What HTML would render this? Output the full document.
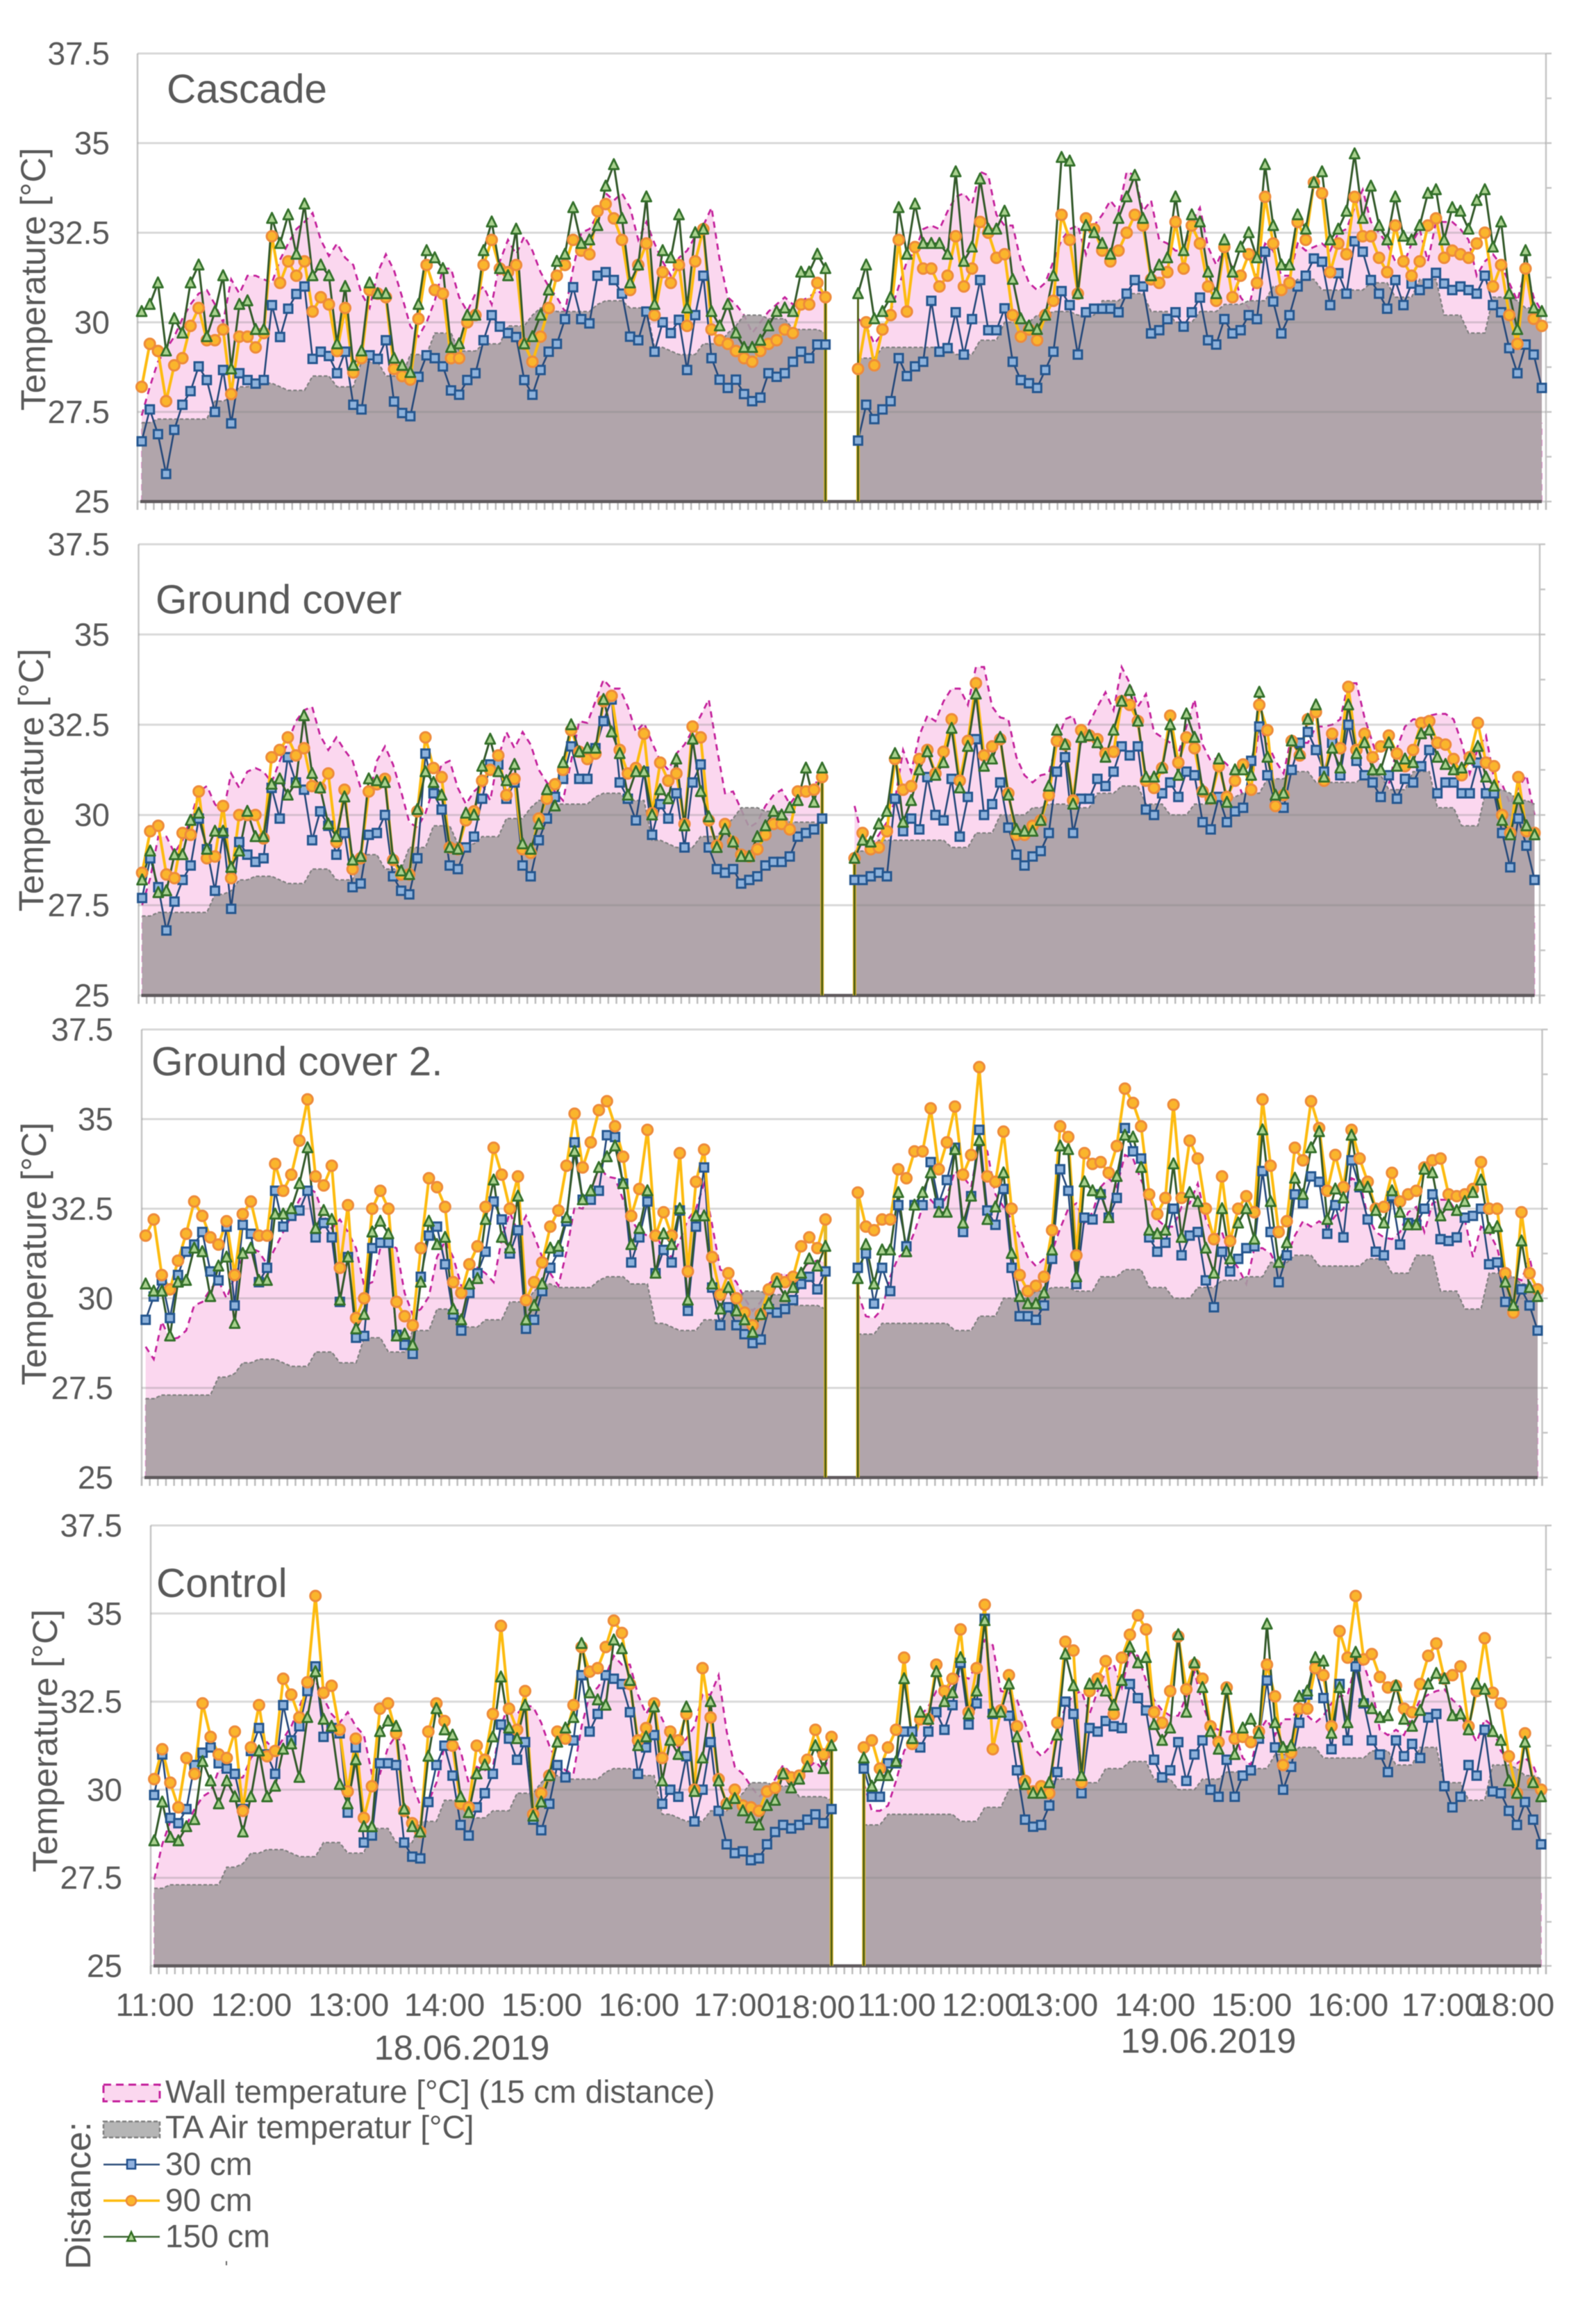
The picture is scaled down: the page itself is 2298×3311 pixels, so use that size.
<!DOCTYPE html>
<html lang="en">
<head>
<meta charset="utf-8">
<title>Temperature profiles by green wall type</title>
<style>
html,body{margin:0;padding:0;background:#fff}
svg{display:block;filter:blur(0.6px)}
text{font-family:"Liberation Sans",sans-serif;fill:#595959}
</style>
</head>
<body>
<svg id="chart" xmlns="http://www.w3.org/2000/svg" width="2298" height="3311" viewBox="0 0 2298 3311">
<rect width="2298" height="3311" fill="#fff"/>
<g id="panels"></g>

<g font-size="46.5" text-anchor="middle">
<text x="223" y="2902">11:00</text>
<text x="362" y="2902">12:00</text>
<text x="502" y="2902">13:00</text>
<text x="640" y="2902">14:00</text>
<text x="780" y="2902">15:00</text>
<text x="920" y="2902">16:00</text>
<text x="1057" y="2902">17:00</text>
<text x="1173" y="2905">18:00</text>
</g>
<g font-size="46.5" text-anchor="middle">
<text x="1291" y="2902">11:00</text>
<text x="1414" y="2902">12:00</text>
<text x="1523" y="2902">13:00</text>
<text x="1663" y="2902">14:00</text>
<text x="1802" y="2902">15:00</text>
<text x="1941" y="2902">16:00</text>
<text x="2076" y="2902">17:00</text>
<text x="2180" y="2902">18:00</text>
</g>
<text x="665" y="2965" font-size="50.5" text-anchor="middle">18.06.2019</text>
<text x="1740" y="2955" font-size="50.5" text-anchor="middle">19.06.2019</text>

<g font-size="46">
<g>
<rect x="149" y="3001" width="81" height="24" fill="#fbd7ef" stroke="#c4219c" stroke-width="3" stroke-dasharray="11 7"/>
<text x="238" y="3027">Wall temperature [°C] (15 cm distance)</text>
</g>
<g>
<rect x="149" y="3054" width="81" height="23" fill="#b5b5b5" stroke="#7f7f7f" stroke-width="2.5" stroke-dasharray="6 3"/>
<text x="238" y="3078">TA Air temperatur [°C]</text>
</g>
<g>
<line x1="149" x2="230" y1="3116" y2="3116" stroke="#2c4f7c" stroke-width="2.5"/>
<rect x="183" y="3109" width="12" height="13" fill="#8fb0de" stroke="#1f4e8c" stroke-width="2.5"/>
<text x="238" y="3131">30 cm</text>
</g>
<g>
<line x1="149" x2="230" y1="3168" y2="3168" stroke="#fdbb10" stroke-width="3.5"/>
<circle cx="189" cy="3168" r="7" fill="#fbb62c" stroke="#ee8a3a" stroke-width="2.5"/>
<text x="238" y="3183">90 cm</text>
</g>
<g>
<line x1="149" x2="230" y1="3220" y2="3220" stroke="#3a6230" stroke-width="2.5"/>
<polygon points="189,3213 195,3226 183,3226" fill="#a9d18e" stroke="#2f6b1f" stroke-width="2.5"/>
<text x="238" y="3235">150 cm</text>
</g>
</g>
<text transform="translate(130,3267) rotate(-90)" font-size="51">Distance:</text>
<rect x="325" y="3255" width="2" height="6" fill="#666"/>
</svg>

<script>
// shared axis ticks
const yTicks = [25, 27.5, 30, 32.5, 35, 37.5];
const yMinorStep = 1.25;
const slotCount = 173;

// TA air temperature (shared by all four panels)
const airTemp = [
27.2,27.2,27.3,27.3,27.3,27.3,27.3,27.3,27.3,27.8,
27.8,27.9,28.2,28.2,28.3,28.3,28.3,28.2,28.1,28.1,
28.1,28.5,28.5,28.5,28.2,28.2,28.2,28.9,28.9,28.9,
28.5,28.5,28.5,29.1,29.1,29.1,29.7,29.7,29.7,29.2,
29.2,29.2,29.4,29.4,29.4,29.9,29.9,29.9,30.2,30.4,
30.4,30.3,30.3,30.3,30.3,30.3,30.5,30.6,30.6,30.6,
30.4,30.4,30.4,29.3,29.3,29.2,29.1,29.1,29.1,29.4,
29.4,29.4,29.7,29.9,30.2,30.2,30.2,30.1,30.1,30.1,
29.8,29.8,29.8,29.8,29.7,
null,null,null,
29,29,29,29.3,29.3,29.3,29.3,29.3,29.3,29.3,
29.3,29.3,29.1,29.1,29.1,29.5,29.5,29.5,30,30,
30,30,30.2,30.2,30.3,30.3,30.3,30.2,30.2,30.2,
30.6,30.6,30.6,30.8,30.8,30.8,30.3,30.3,30.3,30,
30,30,30.3,30.3,30.3,30.5,30.5,30.5,30.6,30.6,
30.6,31,31,31,31.2,31.2,31.2,30.9,30.9,30.9,
30.9,30.9,30.9,31.1,31.1,31.1,30.7,30.7,30.7,31.2,
31.2,31.2,30.2,30.2,30.2,29.7,29.7,29.7,30.7,30.7,
30.7,30.6,30.4,30.4,30.3];

// Cascade
const cascadeWall = [
27.4,28.2,28.9,29.25,29.6,30.1,30.5,30.8,30.9,30.5,
30,31.2,30.8,31.3,31.3,31.2,31.1,31.75,32.2,32.6,
32.8,33.05,32.3,31.85,32.2,31.8,31.6,30.8,30.4,31.4,
31.9,31.45,30.7,29.9,29.6,30,30.6,31.5,31.5,30.7,
30.3,30.8,31,30.5,31.7,32.3,31.9,32.4,32,31.4,
31,30.7,30.3,31.5,32.5,32.6,33,33.6,33.4,33.6,
33.2,32.3,32.8,32.2,31.7,31.3,31.8,32,32.4,32.7,
33.2,31.75,30.7,30.5,30.2,29.7,30,30.3,30.5,30.7,
30.5,30.6,30.7,30.9,30.7,
null,null,null,
30.1,29.9,29.4,29.7,30.3,31,31.7,32,32.6,32.7,
32.6,33.1,33.5,33.6,33.3,34.2,34.1,33,32.7,32.7,
31.7,31.1,30.9,31.1,31.7,32.3,32.6,32.7,31.9,32.7,
33,33.4,33.1,34.2,34.1,33.1,33.4,32.3,32.2,32,
32,32.8,33.2,32.1,31.6,32.1,31.5,30.7,30.4,31.4,
32.2,32,31.3,31.3,32.2,32,32.1,32.2,32,32.5,
32.6,33.2,33.7,32.8,32.5,32.2,31.7,31.6,32.2,32.6,
31.7,32.8,32.8,32.8,32.6,32.3,31.3,31.7,31.9,31.6,
31.1,30.6,31.5,30.7,30.3];
const cascade30 = [
26.68,27.57,26.88,25.77,27,27.7,28.08,28.77,28.39,27.5,
28.67,27.18,28.58,28.39,28.29,28.39,30.48,29.59,30.38,30.79,
31,28.98,29.18,29.06,28.58,29.18,27.7,27.57,29.08,28.98,
29.5,27.79,27.47,27.38,28.48,29.08,29,28.77,28.1,27.98,
28.39,28.58,29.5,30.2,29.88,29.7,29.59,28.39,27.98,28.67,
29.18,29.4,30.09,30.98,30.09,29.97,31.3,31.4,31.18,30.8,
29.6,29.5,30.3,29.18,30,29.7,30.07,28.67,30.2,31.3,
29,28.4,28.17,28.4,28,27.8,27.9,28.58,28.48,28.58,
28.9,29.18,29,29.38,29.38,
null,null,null,
26.7,27.7,27.3,27.57,27.8,29,28.5,28.77,28.9,30.6,
29.18,29.28,30.28,29.1,30.09,31.18,29.78,29.78,30.39,28.9,
28.39,28.3,28.17,28.67,29.18,30.87,30.48,29.1,30.28,30.38,
30.38,30.38,30.28,30.8,31.18,31,29.69,29.78,30.09,30.28,
29.88,30.28,30.69,29.5,29.38,30.09,29.69,29.78,30.2,30.09,
31.97,30.58,29.69,30.2,31,31.3,31.78,31.69,30.48,31.37,
30.8,32.26,31.97,31.18,30.8,30.38,31.18,30.48,31.08,30.9,
31.08,31.38,31.08,30.9,31,30.9,30.8,31.3,30.48,30.28,
29.28,28.58,29.38,29.1,28.17];
const cascade90 = [
28.2,29.4,29.2,27.8,28.8,29,29.9,30.4,29.5,29.5,
29.8,28,29.6,29.6,29.3,29.7,32.4,31.1,31.7,31.3,
31.7,30.3,30.7,30.5,29.2,30.4,28.6,29,30.9,30.8,
30.7,28.7,28.5,28.4,30.1,31.6,30.9,30.8,29,29,
30,30.2,31.6,32.3,31.5,31.4,31.6,29.4,28.9,29.6,
30.4,31.3,31.6,32.3,32,31.9,33.1,33.3,32.9,32.3,
30.9,31.6,32.2,30.2,31.4,31.1,31.6,29.9,31.7,32.6,
29.8,29.5,29.4,29.2,29,28.9,29.2,29.4,29.5,29.8,
29.7,30.5,30.5,31.1,30.7,
null,null,null,
28.7,30,28.8,29.8,30.2,32.3,30.3,32.1,31.5,31.5,
31,31.3,32.4,31,31.5,32.8,32.5,31.8,31.9,30.2,
29.6,29.8,29.5,30.2,30.6,33,32.3,30.8,32.9,32.6,
32,31.7,32,32.5,33,32.7,31.2,31.1,31.4,32.8,
31.5,32.7,32.2,31,30.6,32.1,30.7,31.3,31.9,31.1,
33.5,32.2,30.9,31.1,32.8,32.3,33.9,33.6,31.4,32.2,
31.9,33.5,32.4,32.4,31.8,31.4,32.7,31.7,31.3,31.7,
32.7,32.9,31.8,32,31.9,31.8,32.2,32.5,31,31.6,
30.2,29.4,31.5,30.1,29.9];
const cascade150 = [
30.3,30.5,31.1,29.2,30.1,29.7,31.1,31.6,29.6,30.3,
31.3,28.7,30.5,30.6,29.8,29.8,32.9,32.2,33,31.9,
33.3,31.3,31.6,31.3,29.4,31,28.8,29.2,31.1,30.8,
30.8,29,28.8,28.6,30.5,32,31.8,31.5,29.3,29.4,
30.2,30.2,32,32.8,31.5,31.3,32.6,29.4,29.6,30.2,
30.9,31.7,31.9,33.2,32.2,32.3,32.7,33.8,34.4,32.9,
31.1,31.6,33.5,30.5,32,31.8,33,30.4,32.5,32.6,
30.3,29.9,30.5,29.7,29.3,29.3,29.5,29.9,30.3,30.4,
30.3,31.4,31.4,31.9,31.5,
null,null,null,
30.8,31.6,30.1,30.3,30.7,33.2,31.9,33.3,32.2,32.2,
32.2,31.9,34.2,31.7,32.1,34,32.6,32.6,33.1,31.2,
30.1,29.9,29.8,30.2,31.3,34.6,34.5,30.8,32.7,32.5,
32.2,31.9,32.9,33.5,34.1,32.9,31.3,31.6,31.8,33.5,
32,33,32.8,31.4,30.8,32.3,31.4,32.1,32.5,31.8,
34.4,32.7,31.6,31.6,33,32.6,33.9,34.2,32.3,32.6,
33.1,34.7,32.9,33.8,32.7,32.3,33.5,32.4,32.3,32.7,
33.6,33.7,32.3,33.2,33.1,32.6,33.4,33.7,32.1,32.8,
30.8,29.8,32,30.4,30.3];

// Ground cover
const groundWall = [
27.5,28.25,29.4,29.4,28.95,29.3,29.9,30.65,30.8,30.3,
30.05,31.15,30.75,31.2,31.3,31.2,30.9,31.5,32,32.6,
32.9,33,32.2,31.8,32.15,31.8,31.5,30.75,30.5,31.5,
31.9,31.4,30.65,29.8,29.65,30.05,30.75,31.4,31.5,30.75,
30.3,30.65,30.85,30.4,31.6,32.3,31.85,32.3,31.95,31.25,
30.9,30.65,30.4,31.5,32.6,32.55,33.15,33.75,33.5,33.5,
33,32.3,32.55,32,31.5,31.25,31.7,31.95,32.35,32.75,
33.2,31.85,30.6,30.65,30.15,29.65,29.8,30.25,30.55,30.7,
30.3,30.6,30.7,30.9,30.9,
null,null,null,
30.25,29.35,29.15,29.45,29.8,30.4,31.8,31.2,32.2,32.75,
32.6,33.15,33.5,33.5,33.05,34.1,34.1,33,32.7,32.65,
31.6,31.1,30.9,31.1,31.15,32,32.65,32.75,32,32.55,
33,33.4,32.9,34.1,33.65,33,33.35,32.3,32.15,32,
31.7,32.45,33.2,31.95,31.5,31.6,31.4,31.15,30.5,30.75,
32.45,32,31.5,31.15,32.2,32,32,32.45,32.45,32.5,
32.65,33.65,33.65,32.7,32,31.35,30.85,31.85,32.45,32.65,
32.65,32.75,32.8,32.8,32.65,32,31.15,31.85,32.2,31,
30.85,30.3,30.75,31.1,30];
const ground30 = [
27.7,28.8,28,26.8,27.6,28.2,28.6,29.9,29.05,27.9,
29.5,27.4,29.25,28.9,28.7,28.8,30.75,29.9,31.6,30.9,
30.7,29.3,30.1,29.7,28.9,29.5,28,28.1,29.45,29.5,
30,28.3,27.9,27.8,28.8,31.7,30.6,30.15,28.6,28.5,
29.1,29.4,30.45,31.4,31.4,30.45,30.9,28.6,28.3,29.3,
29.9,30.5,31,31.9,31,31,31.85,32.6,33.2,30.9,
30.45,29.85,31.2,29.45,30.3,29.9,30.6,29.1,30.9,31.4,
29.1,28.5,28.4,28.5,28.1,28.2,28.3,28.6,28.7,28.7,
28.85,29.4,29.5,29.6,29.9,
null,null,null,
28.2,28.2,28.3,28.4,28.3,30.45,29.55,29.9,29.6,31.05,
30,29.85,31,29.4,30.5,32.1,30,30.3,30.9,29.65,
28.9,28.6,28.85,29,29.5,31.2,31.6,29.5,30.45,30.45,
31,30.8,31.2,31.9,31.65,31.9,30.15,30,30.6,30.9,
30.5,31.2,31.1,29.8,29.6,30.5,29.8,30.1,30.2,31.5,
32.45,31.1,30.3,30.2,31.25,32,32.3,31.8,31.2,32,
31.1,32.5,31.5,31.1,30.9,30.5,31.1,30.45,31,30.9,
31.35,31.8,30.6,30.9,30.9,30.6,30.6,31.45,30.6,30.6,
29.5,28.55,29.9,29.15,28.2];
const ground90 = [
28.4,29.55,29.7,28.35,28.25,29.5,29.45,30.65,28.8,28.85,
30.25,28.25,30,30,30,29.35,31.6,31.8,32.15,31.65,
31.85,30.8,30.75,31.15,29.25,30.7,28.5,28.8,30.65,30.85,
31,28.75,28.35,28.35,30.1,32.15,31.3,31.05,29.1,29.05,
29.85,30.1,30.95,31.25,31.65,30.55,31,29.05,28.95,29.9,
30.45,30.85,31.25,32.35,31.75,31.55,31.7,33.15,33.3,31.8,
31.15,31.3,32.25,30.05,31.45,30.95,31.15,29.75,32.45,32.15,
29.85,29.15,29.75,29.25,28.9,28.85,29.05,29.45,29.75,29.75,
29.6,30.65,30.65,30.7,31.05,
null,null,null,
28.8,29.5,29.05,29.1,29.55,31.55,30.7,30.8,31.55,31.8,
31.15,31.75,32.65,30.95,32.05,33.65,31.65,31.9,32.1,30.6,
29.45,29.45,29.7,29.85,30.55,32.05,31.95,30.4,32.35,32.2,
32.1,31.7,31.75,33.15,33.05,32.6,30.95,30.75,31.3,32.75,
31.45,32.15,31.85,30.65,30.45,31.35,30.5,30.95,31.4,30.7,
33.05,32.35,30.25,30.55,32.05,31.65,32.65,32.85,30.95,32.25,
31.85,33.55,31.8,32.25,31.6,31.9,32.2,31.7,31.35,31.8,
32.55,32.6,32,31.95,31.55,31.1,31.6,32.55,31.45,31.35,
30,29.5,31.05,29.55,29.5];
const ground150 = [
28.2,29,27.85,27.9,28.9,28.9,29.85,30.05,29.05,29.55,
29.55,28.55,29,30.1,29.4,29.4,30.85,31,30.55,30.9,
32.75,31.15,30.75,29.75,29.4,30.5,28.75,28.85,31,30.95,
30.9,28.8,28.45,28.35,30.15,31.2,30.9,30.55,29.1,29.05,
30.05,30,31.35,32.1,31.2,30.95,31.4,29.2,29.05,29.75,
30.7,30.25,31.45,32.5,31.75,31.85,31.85,33.2,32.3,31.7,
30.55,31.2,31.2,30,30.7,30.45,31.55,29.7,32.1,30.65,
29.95,29.1,29.6,29.25,28.85,28.85,29.4,29.7,30.1,30,
30.2,30.4,31.3,30.35,31.3,
null,null,null,
28.8,29.3,29.25,29.75,30.1,31.7,29.8,30.4,31.25,31.75,
31.1,31.45,32.4,30.75,31.9,33.35,31.35,31.55,32.15,30.55,
29.6,29.55,29.55,29.85,30.8,32.35,31.95,30.3,32.15,32.2,
32,31.6,32.35,33.15,33.45,32.6,31.05,31.05,31.3,32.5,
31.1,32.8,32.15,30.7,30.45,31.55,30.35,31.25,31.25,31.1,
33.4,31.6,30.55,30.6,32.05,31.7,32.65,33.05,31.05,31.85,
31.3,33.05,31.7,32,31.25,31.25,32,31.35,31.55,31.45,
32.25,32.35,31.6,31.4,31.25,31.3,31.55,31.9,31.05,30.8,
29.85,29.45,30.45,29.7,29.45];

// Ground cover 2.
const ground2Wall = [
28.65,28.3,29.35,28.85,28.9,29.1,29.8,29.9,30.25,30.5,
30,30.6,31.15,31.4,31.3,30.95,31.4,31.85,32.3,32.75,
33.1,32.95,32.3,31.95,32.2,31.85,31.4,30.35,30.45,31.4,
31.5,31.4,30.15,29.55,29.7,30.05,31.15,31.6,31.15,30.35,
30.15,30.85,30.7,30.45,31.65,32.4,31.85,32.3,31.75,31.15,
30.7,30.35,31.3,32.55,32.5,33,33.7,33.4,33.35,32.75,
32.2,31.85,31.75,31.85,31.3,31.15,31.6,32.2,32.5,33.2,
32.05,30.8,30.7,30.45,30,29.65,29.9,30.4,30.6,30.7,
30.4,30.8,31,31.05,31,
null,null,null,
30.15,29.5,29.45,29.7,30.6,31.15,31.3,31.85,32.55,32.75,
32.5,32.85,33.55,33.4,33.1,34.35,34.1,32.9,32.55,32.2,
31.7,31.15,30.9,31.1,31.3,31.95,32.5,32.65,32.1,32.4,
33.1,33.35,33.1,34,33.9,33.3,32.85,32.2,32,32,
32.55,32.65,33.2,32.2,31.75,31.85,31.15,30.85,30.4,31.4,
31.4,31.25,30.8,31.15,31.75,32.15,32,32.15,32,32.3,
32.5,33.35,33.25,32.3,31.85,31.7,31.65,31.85,32.4,32.55,
31.85,32.65,32.75,32.75,32.4,32.2,31.15,32,31.85,31.4,
30.5,30.6,30.5,31.15,30.05];
const ground230 = [
29.4,30.05,30.5,29.45,30.65,31.3,31.5,31.85,30.75,30.5,
32,29.8,32.05,31.8,30.45,30.85,33,32,32.3,32.45,
33,31.7,32.1,31.7,29.9,31.15,28.9,28.95,31.4,31.55,
31.55,28.98,28.7,28.45,30.6,31.75,32,30.95,29.55,29.1,
30.15,30.7,31.3,32.7,32.2,31.25,31.9,29.15,29.4,30.2,
30.85,31.3,32.15,34.35,32.75,32.75,33,34.55,34.5,33.2,
31,31.7,32.7,30.7,31.35,31,32.45,29.65,32,33.65,
30.3,29.25,29.75,29.25,29,28.75,28.85,29.7,29.6,29.7,
29.95,30.4,30.6,30.25,30.75,
null,null,null,
30.85,31.25,29.85,30.85,30.2,32.6,31.45,32.6,32.6,33.8,
32.65,33.3,34.2,31.85,32.85,34.7,32.45,32.05,33.05,30.85,
29.5,29.5,29.4,29.8,31.1,33.6,33,30.4,32.25,32.2,
32.9,32.25,32.8,34.75,34.1,33.9,31.7,31.3,31.55,32.5,
31.2,31.75,31.85,30.5,29.75,31.3,30.75,31.1,31.4,31.45,
33.55,31.85,30.45,31.2,32.9,32.65,33.4,33.25,31.8,32.6,
31.7,33.85,33.1,32.2,31.3,31.2,32.85,31.5,32.1,32.05,
32.5,32.9,31.65,31.6,31.7,32.25,32.3,32.5,30.95,31,
29.9,29.65,30.25,29.8,29.1];
const ground290 = [
31.75,32.2,30.65,30.25,31.05,31.8,32.7,32.3,31.7,31.5,
32.15,30.65,32.35,32.7,31.75,31.75,33.75,33,33.45,34.4,
35.55,33.4,33.15,33.7,30.85,32.6,29.45,30,32.5,33,
32.5,29.9,29.5,29.25,31.4,33.35,33.1,32.55,30.45,30.15,
30.95,31.45,32.55,34.2,33.45,32.5,33.4,29.95,30.45,31,
32,32.45,33.7,35.15,33.65,34.35,35.25,35.5,34.8,33.95,
32.3,33.05,34.7,31.75,32.4,31.75,34.05,30.75,33.25,34.15,
31.15,30.1,30.7,30,29.6,29.25,29.55,30.25,30.55,30.45,
30.6,31.45,31.7,31.4,32.2,
null,null,null,
32.95,32,31.9,32.2,32.2,33.6,33.35,34.1,34.1,35.3,
33.6,34.35,35.35,33.45,34,36.45,33.4,33.25,34.65,32.5,
30.65,30.2,30.35,30.6,31.9,34.8,34.5,31.2,34.05,33.75,
33.8,33.5,34.25,35.85,35.45,34.8,32.9,32.35,32.8,35.4,
32.8,34.4,33.9,32.5,31.65,33.4,31.6,32.5,32.85,32.4,
35.55,33.7,31.85,32.15,34.2,33.85,35.5,34.75,33,34,
33.1,34.7,33.9,33.25,32.5,32.55,33.5,32.7,32.9,33,
33.65,33.85,33.9,32.9,32.85,32.9,33.05,33.8,32.5,32.5,
30.7,29.6,32.4,30.7,30.25];
const ground2150 = [
30.4,30.2,30.2,28.95,30.45,30.5,31.4,31.3,30.05,30.9,
31.15,29.3,31.25,31.4,30.5,30.5,32.35,32.35,32.5,33.2,
34.2,31.95,32.45,32.2,29.95,31.15,29.15,29.55,31.85,32.15,
31.8,28.95,29,28.7,30.45,32.15,31.5,31.7,29.7,29.4,
30.4,30.55,32.2,33.3,31.7,31.4,32.85,29.4,29.8,30.4,
31.4,31.45,32.25,34.1,32.75,33,33.65,33.95,34.25,33.2,
31.5,31.95,33,30.7,31.8,31.5,32.5,29.95,32.3,32.3,
30.4,29.7,30.3,29.65,29.4,29.05,29.55,29.85,30.45,30.05,
30.3,30.7,31.1,30.9,31.45,
null,null,null,
30.55,31.5,30.4,31.35,31.35,32.95,31.3,32.6,32.95,33.5,
32.4,32.4,34.15,32.1,32.85,34.4,32.2,32.55,33.5,31.25,
30.05,29.85,29.85,30.15,31.35,34.25,34.15,30.6,33.25,33,
32.95,32.25,33.4,34.55,34.5,33.65,31.9,31.8,31.9,33.75,
31.7,32.95,32.7,31.4,30.7,32.5,31.1,32.1,32.5,31.65,
34.7,32.7,31,31.55,33.35,32.9,34.2,34.65,32.2,33.05,
32.8,34.55,33.15,33.1,32.45,32.1,33,32.4,32.05,32.05,
33.6,33.5,32.3,32.6,32.45,32.7,32.95,33.3,31.95,32,
30.45,29.8,31.6,30.3,30.05];

// Control
const controlWall = [
27.45,28.45,29.1,29,29,29.45,29.8,29.95,30.55,30.55,
30.3,30.35,30.9,31.2,31.35,31.1,31.45,31.8,32.35,32.9,
33.1,32.6,32.15,31.9,32.2,31.8,31.55,30.45,30.45,31.2,
31.55,31.25,30.2,29.55,29.65,30.2,31.25,31.55,31.1,30.2,
30.65,30.55,30.65,31.8,32.45,32.15,32.4,32.35,31.9,31.25,
30.8,30.55,30.45,31.8,32.7,32.9,33.25,33.8,33.55,33.55,
32.7,32.15,32.55,32,31.55,31.2,31.45,31.8,32.7,32.7,
33.25,31.65,30.65,30.45,30.1,29.8,30,30.3,30.7,30.45,
30.3,30.6,30.8,30.55,31.1,
null,null,null,
30.2,29.4,29.4,29.55,30.25,31.1,31.45,32.1,32.35,32.8,
32.7,33.1,33.25,33.15,33.55,34.25,34.1,32.8,32.75,32.55,
31.9,31.2,30.95,31.2,31.7,32.35,32.7,32.8,32.15,32.8,
33.35,33.55,32.9,33.9,33.8,33.1,32.55,32.25,32.1,32.1,
32.65,33.35,32.45,31.8,31.7,31.65,31.65,30.9,30.7,31.65,
32,31.55,32,32,32.35,32.1,31.9,32.1,32.45,32.65,
32.7,33.55,33.55,32.9,31.7,31.55,31.7,31.55,32.1,32.55,
32.7,32.8,32.85,32.55,32.35,31.8,31.35,32,31.8,31.1,
30.85,30.75,30.9,30.7,30.1];
const control30 = [
29.85,31,29.2,29.05,29.45,30.7,31.05,31.2,30.75,30.6,
30.45,29.45,31.1,31.75,31,30.45,32.4,31.4,31.8,32.8,
33.5,31.5,31.75,31.6,29.35,31.2,28.5,28.7,30.75,30.75,
30.7,28.5,28.1,28.05,29.65,30.7,31.25,30.4,29,28.7,
29.5,29.9,30.45,31.85,31.45,30.85,31.35,29.15,28.85,29.6,
30.7,30.35,31.4,33.25,31.65,32.15,33.25,33.15,33,32.2,
30.45,31.2,31.55,29.6,30,29.8,30.95,29.1,30,31.35,
29.4,28.45,28.2,28.25,28,28.05,28.45,28.8,29,28.9,
29,29.15,29.3,29.05,29.45,
null,null,null,
30.6,29.8,29.8,30.75,30.75,31.65,31.65,31.2,31.65,32.2,
31.7,32.4,33.6,31.85,32.45,34.85,32.15,32.2,32.1,30.55,
29.15,28.95,29,29.55,30.5,32.5,32.15,29.9,31.75,31.65,
31.95,31.8,31.75,33,32.6,32.25,30.85,30.35,30.55,31.35,
30.25,31,31.4,30,29.8,30.85,29.8,30.4,30.55,31.45,
33.1,31.2,30,30.65,31.9,32.7,33.45,32.6,31.15,33,
31.4,33.5,32.45,31.4,31,30.5,31.4,30.95,31.3,30.9,
32.05,32.15,30.1,29.5,29.8,30.7,30.4,31.7,29.95,29.9,
29.4,29,29.65,29.15,28.45];
const control90 = [
30.3,31.15,30.2,29.5,30.9,30.45,32.45,31.5,31,30.9,
31.65,29.4,31.2,32.4,30.95,31.1,33.15,32.7,32.05,33.05,
35.5,32.75,32.95,31.7,29.95,31.45,29.2,30.1,32.3,32.45,
31.6,29.4,29.05,28.8,31.65,32.45,31.95,31.25,29.6,29.5,
31.25,30.85,32.15,34.65,32.3,31.7,32.8,29.3,29.9,30.4,
31.65,31.45,32.4,34.05,33.35,33.45,34.05,34.8,34.45,33,
31.4,31.75,32.45,30.9,31.65,31.4,32.15,30,33.45,32.05,
30.3,29.6,30,29.55,29.5,29.4,29.95,30.05,30.45,30.35,
30.4,30.85,31.7,31,31.5,
null,null,null,
31.2,31.4,30.6,31.2,31.7,33.75,31.3,32,32,33.55,
32.8,33.15,34.55,32.2,33.45,35.25,31.15,32.25,33.25,31.8,
30.25,29.95,30.1,29.9,31.9,34.2,33.95,30.2,32.8,33.15,
33.65,32.15,33.75,34.4,34.95,34.55,32.2,31.9,32.8,34.35,
32.85,33.55,33.15,31.8,31.35,32.9,31.45,31.5,31.35,31.65,
33.55,32.65,30.7,31.05,32.3,32.3,33.45,33.25,31.8,34.5,
33.75,35.5,33.7,33.85,33.2,32.9,32.95,32.3,32.2,33,
33.8,34.15,33.15,33.25,33.5,31.8,32.8,34.3,32.75,32.45,
30.95,29.9,31.6,30.2,30];
const control150 = [
28.55,29.65,28.65,28.55,28.95,29.15,30.8,30.25,29.6,30.25,
29.8,28.8,29.8,31.1,29.8,30.1,31.15,31.3,30.35,32.05,
33.35,32,31.8,30.15,29.6,30.85,28.95,28.95,31.65,31.95,
31.8,29.45,28.95,28.8,30.95,32.3,31.7,31.55,29.8,29.35,
30.45,30.7,31.5,33.2,31.75,31.45,32.4,29.25,29.65,30.4,
31.35,31.75,32.05,34.15,32.75,32.55,32.4,34.25,34,33.1,
31.25,31.5,32.35,30.25,31.4,31,32.35,29.95,30.9,32.5,
30.25,29.6,29.75,29.4,29.2,29,29.55,29.7,30.45,30.05,
30.3,30.65,31.25,30.6,31.25,
null,null,null,
30.9,30.1,30.4,30.4,30.8,33.15,31.45,32.2,32,33.35,
32.5,32.75,33.75,32.15,32.8,34.8,32.2,32.2,33,31.5,
30.15,29.9,29.9,30.2,31.55,33.85,32.95,30.4,33,33,
32.8,32.4,33.1,34.05,33.6,33.75,31.85,31.4,31.75,34.4,
32.2,33.6,32.9,31.65,31.15,32.85,31,31.75,32,31.6,
34.7,31.9,31.2,31.25,32.65,32.8,33.75,33.65,31.6,32.9,
31.9,33.9,32.5,32.3,32.05,32.1,32.95,32,31.8,32.25,
33,33.3,33.15,32.1,32.15,31.7,33,32.85,31.65,31.4,
30.25,29.9,31.35,30.2,29.8];

const panels = [
  {key:'cascade', title:'Cascade', titleX:240, titleY:148, axisL:198, axisR:2226, x0:204, x1:2220, yTop:77, yBase:722,
   labelX:158, yTitleX:65, yTitleY:402, wall:cascadeWall, s30:cascade30, s90:cascade90, s150:cascade150},
  {key:'ground-cover', title:'Ground cover', titleX:224, titleY:883, axisL:199.5, axisR:2217, x0:204.6, x1:2209.5, yTop:783.5, yBase:1433,
   labelX:158, yTitleX:62, yTitleY:1123, wall:groundWall, s30:ground30, s90:ground90, s150:ground150},
  {key:'ground-cover-2', title:'Ground cover 2.', titleX:218, titleY:1548, axisL:204, axisR:2220.5, x0:209.7, x1:2214, yTop:1482, yBase:2127,
   labelX:163, yTitleX:66, yTitleY:1805, wall:ground2Wall, s30:ground230, s90:ground290, s150:ground2150},
  {key:'control', title:'Control', titleX:225, titleY:2299, axisL:217, axisR:2226, x0:222, x1:2219, yTop:2196, yBase:2830,
   labelX:176, yTitleX:82, yTitleY:2506, wall:controlWall, s30:control30, s90:control90, s150:control150}
];

const NS = 'http://www.w3.org/2000/svg';
const root = document.getElementById('panels');

function mk(parent, tag, attrs) {
  const el = document.createElementNS(NS, tag);
  for (const k in attrs) el.setAttribute(k, attrs[k]);
  parent.appendChild(el);
  return el;
}

function segments(values) {
  const out = [];
  let cur = [];
  values.forEach((v, i) => {
    if (v === null) { if (cur.length) out.push(cur); cur = []; }
    else cur.push({i: i, v: v});
  });
  if (cur.length) out.push(cur);
  return out;
}

panels.forEach(p => {
  const xScale = i => p.x0 + (p.x1 - p.x0) * i / (slotCount - 1);
  const yScale = v => p.yBase + (p.yTop - p.yBase) * (v - 25) / 12.5;

  const g = mk(root, 'g', {});
  
  

  // axes
  const leftAxis = mk(g, 'line', {x1:p.axisL, x2:p.axisL, y1:p.yTop, y2:p.yBase + 12, stroke:'#c6c6c6', 'stroke-width':2.5});
  
  
  const rightAxis = mk(g, 'line', {x1:p.axisR, x2:p.axisR, y1:p.yTop, y2:p.yBase + 12, stroke:'#c6c6c6', 'stroke-width':2.5});
  
  
  for (let v = 25; v <= 37.5; v += yMinorStep) {
    const t = mk(g, 'line', {x1:p.axisR, x2:p.axisR + 8, y1:yScale(v), y2:yScale(v), stroke:'#c6c6c6', 'stroke-width':2.5});
    
    
  }

  // wall and air areas
  segments(p.wall).forEach(seg => {
    const pts = seg.map(d => xScale(d.i).toFixed(1) + ',' + yScale(d.v).toFixed(1));
    const bx0 = xScale(seg[0].i).toFixed(1), bx1 = xScale(seg[seg.length - 1].i).toFixed(1), by = yScale(25).toFixed(1);
    const area = mk(g, 'polygon', {points: bx0 + ',' + by + ' ' + pts.join(' ') + ' ' + bx1 + ',' + by, fill:'#fbd7ef'});
    
    
    const outline = mk(g, 'polyline', {points: pts.join(' '), fill:'none', stroke:'#c4219c', 'stroke-width':2.8, 'stroke-dasharray':'9 7'});
    
    
    [bx0, bx1].forEach(ex => {
      const edge = mk(g, 'line', {x1:ex, x2:ex, y1:by, y2:yScale(27.2), stroke:'#c4219c', 'stroke-opacity':0.45, 'stroke-width':2, 'stroke-dasharray':'9 7'});
      
      
    });
  });
  segments(airTemp).forEach(seg => {
    const pts = seg.map(d => xScale(d.i).toFixed(1) + ',' + yScale(d.v).toFixed(1));
    const bx0 = xScale(seg[0].i).toFixed(1), bx1 = xScale(seg[seg.length - 1].i).toFixed(1), by = yScale(25).toFixed(1);
    const area = mk(g, 'polygon', {points: bx0 + ',' + by + ' ' + pts.join(' ') + ' ' + bx1 + ',' + by, fill:'#a69ea2', 'fill-opacity':0.88});
    
    
    const outline = mk(g, 'polyline', {points: pts.join(' '), fill:'none', stroke:'#7f7f7f', 'stroke-width':2.2, 'stroke-dasharray':'5 3'});
    
    
  });

  // gridlines and tick labels
  yTicks.forEach(v => {
    const grid = mk(g, 'line', {x1:p.axisL, x2:p.axisR, y1:yScale(v), y2:yScale(v), stroke:'#808080', 'stroke-opacity':0.3, 'stroke-width':3});
    
    
    const label = mk(g, 'text', {x:p.labelX, y:yScale(v) + 16, 'font-size':46, 'text-anchor':'end'});
    
    
    label.textContent = String(v);
  });

  // baseline and x ticks
  for (let i = 0; i <= slotCount; i++) {
    const tx = p.axisL + (p.axisR - p.axisL) * i / slotCount;
    const tick = mk(g, 'line', {x1:tx, x2:tx, y1:p.yBase, y2:p.yBase + 12, stroke:'#bdbdbd', 'stroke-width':2.5});
    
    
  }
  const base = mk(g, 'line', {x1:p.axisL + 4, x2:p.x1, y1:p.yBase, y2:p.yBase, stroke:'#5f5a5d', 'stroke-width':4.5});
  
  

  // line series
  const seriesDefs = [
    {name:'30cm', vals:p.s30, stroke:'#24487a', w:2.6},
    {name:'90cm', vals:p.s90, stroke:'#fdbb10', w:4},
    {name:'150cm', vals:p.s150, stroke:'#33592a', w:3}
  ];
  seriesDefs.forEach(s => {
    const segs = segments(s.vals);
    segs.forEach((seg, si) => {
      const pts = seg.map(d => xScale(d.i).toFixed(1) + ',' + yScale(d.v).toFixed(1));
      const line = mk(g, 'polyline', {points: pts.join(' '), fill:'none', stroke:s.stroke, 'stroke-width':s.w, 'stroke-linejoin':'round'});
      
      
    });
  });
  // vertical drops at the logging gap: yellow and green overlap to an olive edge
  [{vals:p.s90, stroke:'#e3b92a', w:5}, {vals:p.s150, stroke:'#4f5f14', w:2.8}].forEach(s => {
    segments(s.vals).forEach((seg, si) => {
      const d = si === 0 ? seg[seg.length - 1] : seg[0];
      const drop = mk(g, 'line', {x1:xScale(d.i), x2:xScale(d.i), y1:yScale(d.v), y2:yScale(25), stroke:s.stroke, 'stroke-width':s.w});
      
      
    });
  });
  seriesDefs.forEach(s => {
    s.vals.forEach((v, i) => {
      if (v === null) return;
      const cx = xScale(i), cy = yScale(v);
      let m;
      if (s.name === '30cm') {
        m = mk(g, 'rect', {x:cx - 6, y:cy - 6, width:12, height:12, fill:'#8db2dc', stroke:'#24568f', 'stroke-width':3});
      } else if (s.name === '90cm') {
        m = mk(g, 'circle', {cx:cx, cy:cy, r:7.5, fill:'#fab52c', stroke:'#ee8b3a', 'stroke-width':3});
      } else {
        m = mk(g, 'polygon', {points:cx + ',' + (cy - 8) + ' ' + (cx + 7) + ',' + (cy + 6.5) + ' ' + (cx - 7) + ',' + (cy + 6.5), fill:'#a9d18e', stroke:'#33702a', 'stroke-width':2.8, 'stroke-linejoin':'round'});
      }
      
      
    });
  });

  // titles
  const title = mk(g, 'text', {x:p.titleX, y:p.titleY, 'font-size':58.5});
  
  
  title.textContent = p.title;
  const yTitle = mk(g, 'text', {transform:'translate(' + p.yTitleX + ',' + p.yTitleY + ') rotate(-90)', 'font-size':50, 'text-anchor':'middle'});
  
  
  yTitle.textContent = 'Temperature [°C]';
});
</script>
</body>
</html>
